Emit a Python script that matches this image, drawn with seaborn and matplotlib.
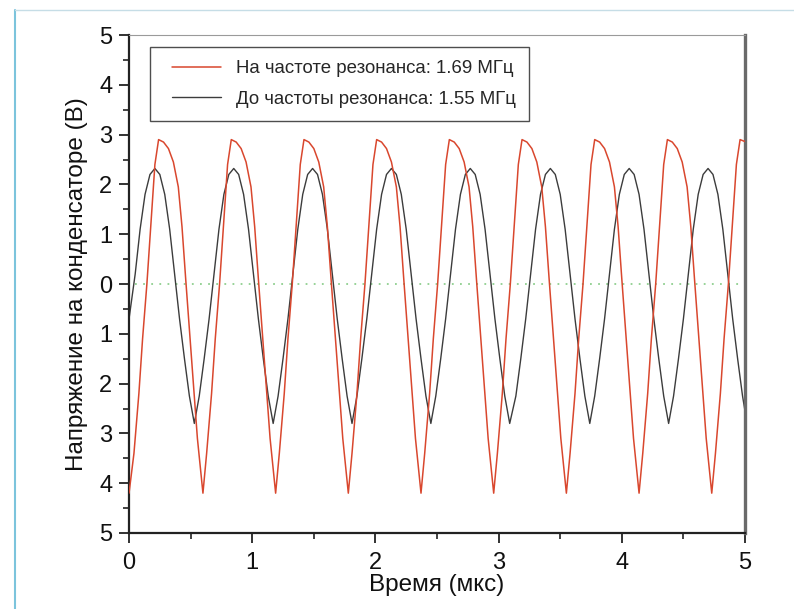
import numpy as np
import pandas as pd
import matplotlib
matplotlib.use("Agg")
import matplotlib.pyplot as plt
from matplotlib.lines import Line2D
from matplotlib.legend_handler import HandlerLine2D
import seaborn as sns

# ---- data ----
# resonance curve, 1.69 MHz (time in us, voltage in V)
red_t = [0.00, 0.04, 0.08, 0.11, 0.145, 0.18, 0.21, 0.24, 0.28, 0.32, 0.36, 0.40, 0.43, 0.46, 0.51, 0.555,
         0.60, 0.63, 0.67, 0.70, 0.735, 0.77, 0.80, 0.83, 0.87, 0.91, 0.95, 0.99, 1.02, 1.05, 1.10, 1.145,
         1.19, 1.22, 1.26, 1.29, 1.325, 1.36, 1.39, 1.42, 1.46, 1.50, 1.54, 1.58, 1.61, 1.64, 1.69, 1.735,
         1.78, 1.81, 1.85, 1.88, 1.915, 1.95, 1.98, 2.01, 2.05, 2.09, 2.13, 2.17, 2.20, 2.23, 2.28, 2.325,
         2.37, 2.40, 2.44, 2.47, 2.505, 2.54, 2.57, 2.60, 2.64, 2.68, 2.72, 2.76, 2.79, 2.82, 2.87, 2.915,
         2.96, 2.99, 3.03, 3.06, 3.095, 3.13, 3.16, 3.19, 3.23, 3.27, 3.31, 3.35, 3.38, 3.41, 3.46, 3.505,
         3.55, 3.58, 3.62, 3.65, 3.685, 3.72, 3.75, 3.78, 3.82, 3.86, 3.90, 3.94, 3.97, 4.00, 4.05, 4.095,
         4.14, 4.17, 4.21, 4.24, 4.275, 4.31, 4.34, 4.37, 4.41, 4.45, 4.49, 4.53, 4.56, 4.59, 4.64, 4.685,
         4.73, 4.76, 4.80, 4.83, 4.865, 4.90, 4.93, 4.96, 5.00]
red_v = [-4.2, -3.4, -2.2, -1.1, 0.0, 1.3, 2.4, 2.9, 2.85, 2.72, 2.45, 1.95, 1.15, 0.1, -1.6, -3.1,
         -4.2, -3.4, -2.2, -1.1, 0.0, 1.3, 2.4, 2.9, 2.85, 2.72, 2.45, 1.95, 1.15, 0.1, -1.6, -3.1,
         -4.2, -3.4, -2.2, -1.1, 0.0, 1.3, 2.4, 2.9, 2.85, 2.72, 2.45, 1.95, 1.15, 0.1, -1.6, -3.1,
         -4.2, -3.4, -2.2, -1.1, 0.0, 1.3, 2.4, 2.9, 2.85, 2.72, 2.45, 1.95, 1.15, 0.1, -1.6, -3.1,
         -4.2, -3.4, -2.2, -1.1, 0.0, 1.3, 2.4, 2.9, 2.85, 2.72, 2.45, 1.95, 1.15, 0.1, -1.6, -3.1,
         -4.2, -3.4, -2.2, -1.1, 0.0, 1.3, 2.4, 2.9, 2.85, 2.72, 2.45, 1.95, 1.15, 0.1, -1.6, -3.1,
         -4.2, -3.4, -2.2, -1.1, 0.0, 1.3, 2.4, 2.9, 2.85, 2.72, 2.45, 1.95, 1.15, 0.1, -1.6, -3.1,
         -4.2, -3.4, -2.2, -1.1, 0.0, 1.3, 2.4, 2.9, 2.85, 2.72, 2.45, 1.95, 1.15, 0.1, -1.6, -3.1,
         -4.2, -3.4, -2.2, -1.1, 0.0, 1.3, 2.4, 2.9, 2.86]

# below resonance, 1.55 MHz
black_t = [0.00, 0.05, 0.09, 0.13, 0.17, 0.21, 0.25, 0.29, 0.33, 0.37, 0.41, 0.45, 0.49, 0.53,
           0.57, 0.61, 0.65, 0.69, 0.73, 0.77, 0.81, 0.85, 0.89, 0.93, 0.97, 1.01, 1.05, 1.09, 1.13, 1.17,
           1.21, 1.25, 1.29, 1.33, 1.37, 1.41, 1.45, 1.49, 1.53, 1.57, 1.61, 1.65, 1.69, 1.73, 1.77, 1.81,
           1.85, 1.89, 1.93, 1.97, 2.01, 2.05, 2.09, 2.13, 2.17, 2.21, 2.25, 2.29, 2.33, 2.37, 2.41, 2.45,
           2.49, 2.53, 2.57, 2.61, 2.65, 2.69, 2.73, 2.77, 2.81, 2.85, 2.89, 2.93, 2.97, 3.01, 3.05, 3.09,
           3.14, 3.18, 3.22, 3.26, 3.30, 3.34, 3.38, 3.42, 3.46, 3.50, 3.54, 3.58, 3.62, 3.66, 3.70, 3.74,
           3.78, 3.82, 3.86, 3.90, 3.94, 3.98, 4.02, 4.06, 4.10, 4.14, 4.18, 4.22, 4.26, 4.30, 4.34, 4.38,
           4.42, 4.46, 4.50, 4.54, 4.58, 4.62, 4.66, 4.70, 4.74, 4.78, 4.82, 4.86, 4.90, 4.94, 4.98, 5.00]
black_v = [-0.7, 0.2, 1.1, 1.8, 2.2, 2.32, 2.2, 1.8, 1.1, 0.2, -0.7, -1.5, -2.25, -2.8,
           -2.25, -1.5, -0.7, 0.2, 1.1, 1.8, 2.2, 2.32, 2.2, 1.8, 1.1, 0.2, -0.7, -1.5, -2.25, -2.8,
           -2.25, -1.5, -0.7, 0.2, 1.1, 1.8, 2.2, 2.32, 2.2, 1.8, 1.1, 0.2, -0.7, -1.5, -2.25, -2.8,
           -2.25, -1.5, -0.7, 0.2, 1.1, 1.8, 2.2, 2.32, 2.2, 1.8, 1.1, 0.2, -0.7, -1.5, -2.25, -2.8,
           -2.25, -1.5, -0.7, 0.2, 1.1, 1.8, 2.2, 2.32, 2.2, 1.8, 1.1, 0.2, -0.7, -1.5, -2.25, -2.8,
           -2.25, -1.5, -0.7, 0.2, 1.1, 1.8, 2.2, 2.32, 2.2, 1.8, 1.1, 0.2, -0.7, -1.5, -2.25, -2.8,
           -2.25, -1.5, -0.7, 0.2, 1.1, 1.8, 2.2, 2.32, 2.2, 1.8, 1.1, 0.2, -0.7, -1.5, -2.25, -2.8,
           -2.25, -1.5, -0.7, 0.2, 1.1, 1.8, 2.2, 2.32, 2.2, 1.8, 1.1, 0.2, -0.7, -1.5, -2.25, -2.55]

red_label = "На частоте резонанса: 1.69 МГц"
black_label = "До частоты резонанса: 1.55 МГц"
x_ticks = [0, 1, 2, 3, 4, 5]
y_ticks = [-5, -4, -3, -2, -1, 0, 1, 2, 3, 4, 5]
y_tick_labels = ["5", "4", "3", "2", "1", "0", "1", "2", "3", "4", "5"]

# ---- plot ----
sns.set_style("ticks")
plt.rcParams["font.family"] = ["Liberation Sans", "DejaVu Sans"]

fig = plt.figure(figsize=(7.94, 6.09), dpi=100)
ax = fig.add_axes([0.1625, 0.1248, 0.7758, 0.8177])

red_df = pd.DataFrame({"t": red_t, "v": red_v})
black_df = pd.DataFrame({"t": black_t, "v": black_v})

ax.axhline(0, xmin=0.01, xmax=0.995, color="#8fcf8f", lw=1.3, ls=(0, (1, 3.5)), zorder=1)
sns.lineplot(data=red_df, x="t", y="v", ax=ax, color="#d9472e", lw=1.1,
             label=red_label, sort=False, zorder=3)
sns.lineplot(data=black_df, x="t", y="v", ax=ax, color="#3c3c3c", lw=1.0,
             label=black_label, sort=False, zorder=2)

ax.set_xlim(0, 5)
ax.set_ylim(-5, 5)
ax.set_xticks(x_ticks)
ax.set_xticks(np.arange(0.5, 5, 1.0), minor=True)
ax.set_yticks(y_ticks)
ax.set_yticklabels(y_tick_labels)
ax.set_yticks(np.arange(-4.5, 5, 1.0), minor=True)

ax.tick_params(which="major", direction="out", length=7, width=1.3, labelsize=17,
               color="#222222", labelcolor="#111111")
ax.tick_params(axis="x", which="major", pad=7)
ax.tick_params(axis="y", which="major", pad=5)
ax.tick_params(which="minor", direction="out", length=4.5, width=1.2, color="#222222")

for side in ["left", "bottom"]:
    ax.spines[side].set_linewidth(1.6)
    ax.spines[side].set_color("#222222")
ax.spines["top"].set_linewidth(0.8)
ax.spines["top"].set_color("#9a9a9a")
ax.spines["right"].set_linewidth(2.4)
ax.spines["right"].set_color("#6a6a6a")
ax.spines["top"].set_visible(True)
ax.spines["right"].set_visible(True)

ax.set_xlabel("Время (мкс)", fontsize=17.5, color="#111111", labelpad=0)
ax.set_ylabel("Напряжение на конденсаторе (В)", fontsize=17.5, color="#111111", labelpad=8)

# legend: line handles shifted a little right inside the box
leg = ax.legend(loc="upper left", bbox_to_anchor=(21 / 616, 486 / 498), fontsize=13.4,
                borderaxespad=0, frameon=True, fancybox=False, shadow=False,
                handlelength=3.1, borderpad=0.72, labelspacing=0.72, handletextpad=0.8,
                handler_map={Line2D: HandlerLine2D(xpad=0.45)})
leg.get_frame().set_edgecolor("#222222")
leg.get_frame().set_linewidth(1.0)

# page border lines
fig.add_artist(Line2D([15 / 794, 15 / 794], [0, 1 - 10 / 609], color="#7cc4dc", lw=1.5))
fig.add_artist(Line2D([15 / 794, 1], [1 - 10 / 609, 1 - 10 / 609], color="#c6dde6", lw=1.0))

fig.savefig("out.png", dpi=100)
